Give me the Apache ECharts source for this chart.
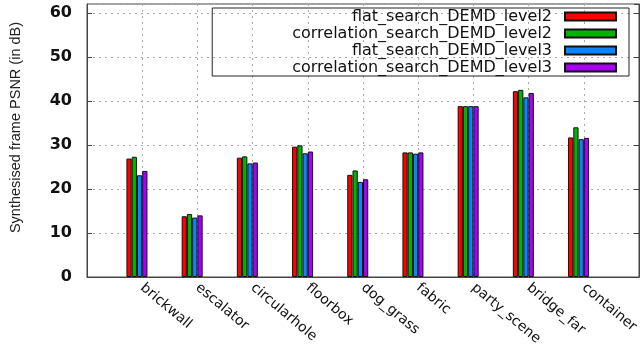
<!DOCTYPE html>
<html>
<head>
<meta charset="utf-8">
<script src="https://cdn.jsdelivr.net/npm/echarts@6/dist/echarts.min.js"></script>
<style>
  html, body { margin: 0; padding: 0; background: #fff; }
  #main { width: 643px; height: 348px; }
</style>
</head>
<body>
<div id="main"></div>
<script>
// scenes (padded with empty slots so the x range runs -1..9)
const categories = ['', 'brickwall', 'escalator', 'circularhole', 'floorbox', 'dog_grass',
  'fabric', 'party_scene', 'bridge_far', 'container', ''];

const seriesNames = ['flat_search_DEMD_level2', 'correlation_search_DEMD_level2',
  'flat_search_DEMD_level3', 'correlation_search_DEMD_level3'];

const flatL2 = ['-', 26.9, 13.8, 27.1, 29.6, 23.2, 28.3, 38.8, 42.2, 31.7, '-'];
const corrL2 = ['-', 27.3, 14.3, 27.4, 29.9, 24.2, 28.3, 38.8, 42.5, 34.0, '-'];
const flatL3 = ['-', 23.1, 13.5, 25.8, 28.1, 21.6, 28.0, 38.8, 40.8, 31.3, '-'];
const corrL3 = ['-', 24.1, 14.0, 26.0, 28.5, 22.2, 28.3, 38.8, 41.8, 31.6, '-'];

const yTicks = [0, 10, 20, 30, 40, 50, 60];

const colors = ['#ff0000', '#00b400', '#0a84ff', '#a800ff'];

let chartDom = document.getElementById('main');
let myChart = echarts.init(chartDom);

const font = 'Liberation Sans, Arial, sans-serif';
const wide = 'DejaVu Sans, sans-serif';

function barSeries(name, data, color) {
  return {
    name: name,
    type: 'bar',
    data: data,
    barWidth: 5.25,
    barGap: '0%',
    itemStyle: { color: color, borderColor: '#111', borderWidth: 1 },
    animation: false
  };
}

// two empty series so the visible group sits a little left of each tick
const blank = categories.map(() => '-');

let option = {
  animation: false,
  grid: {
    left: 87, right: 4, top: 4, bottom: 69,
    show: true, borderColor: '#444', borderWidth: 1
  },
  legend: {
    data: seriesNames,
    orient: 'vertical',
    align: 'right',
    right: 14,
    top: 8,
    padding: [0, 12, 0, 80],
    itemGap: 0,
    itemWidth: 51,
    itemHeight: 8,
    icon: 'rect',
    borderColor: '#222',
    borderWidth: 1,
    selectedMode: false,
    textStyle: {
      fontFamily: wide, fontSize: 16, color: '#111',
      lineHeight: 17, padding: [0, 8, 0, 0]
    }
  },
  xAxis: {
    type: 'category',
    data: categories,
    boundaryGap: false,
    axisLine: { lineStyle: { color: '#444' } },
    axisTick: { show: false },
    axisLabel: {
      rotate: -40, interval: 0, margin: 9,
      fontFamily: wide, fontSize: 14, color: '#111'
    },
    splitLine: { show: true, lineStyle: { color: '#aaa', type: [2, 4] } }
  },
  yAxis: [
    {
      type: 'value',
      min: yTicks[0], max: 62, interval: 10,
      name: 'Synthesised frame PSNR (in dB)',
      nameLocation: 'middle',
      nameGap: 64,
      nameTextStyle: { fontFamily: font, fontSize: 14.5, color: '#222', padding: [0, 0, 0, 26] },
      axisLine: { show: true, lineStyle: { color: '#444' } },
      axisTick: { show: true, inside: true, length: 5, lineStyle: { color: '#444' } },
      axisLabel: {
        showMaxLabel: false, margin: 15,
        fontFamily: wide, fontSize: 16, fontWeight: 'bold', color: '#111'
      },
      splitLine: { show: true, lineStyle: { color: '#aaa', type: [2, 4] } }
    },
    {
      type: 'value',
      position: 'right',
      min: yTicks[0], max: 62, interval: 10,
      axisLine: { show: true, lineStyle: { color: '#444' } },
      axisTick: { show: true, inside: true, length: 5, lineStyle: { color: '#444' } },
      axisLabel: { show: false },
      splitLine: { show: false }
    }
  ],
  series: [
    barSeries(seriesNames[0], flatL2, colors[0]),
    barSeries(seriesNames[1], corrL2, colors[1]),
    barSeries(seriesNames[2], flatL3, colors[2]),
    barSeries(seriesNames[3], corrL3, colors[3]),
    barSeries('', blank, 'transparent'),
    barSeries(' ', blank, 'transparent')
  ]
};

myChart.setOption(option);
</script>
</body>
</html>
